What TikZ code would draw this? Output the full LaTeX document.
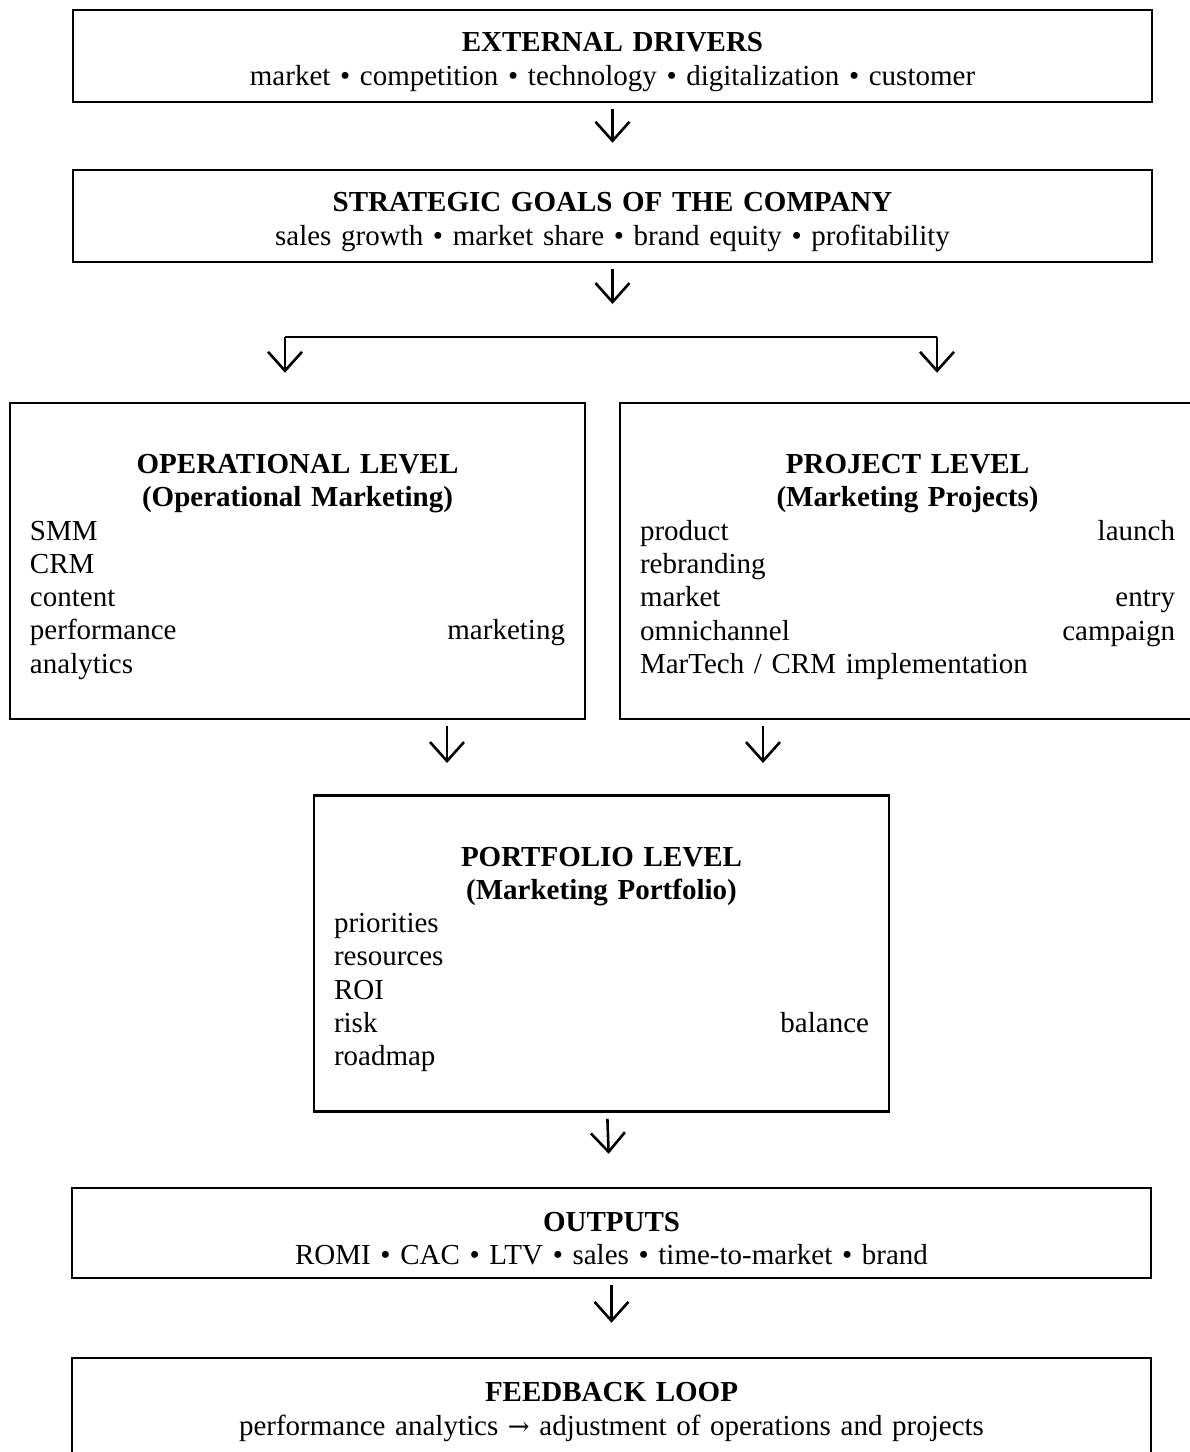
\documentclass[tikz,border=0pt]{standalone}
\usepackage{fontspec}
\setmainfont{Liberation Serif}
\newfontfamily\arrowfont{DejaVu Serif}
\usepackage{tikz}
\usetikzlibrary{arrows.meta,positioning}
\setlength{\parindent}{0pt}

\begin{document}
\begin{tikzpicture}[x=1pt,y=-1pt,
  font=\fontsize{29}{33.3}\selectfont,
  band/.style={draw,line width=2.5pt,inner sep=0pt,minimum width=1079pt,minimum height=#1,text width=1040pt,align=center,
    execute at begin node={\rule{0pt}{31pt}}},
  level/.style={draw,line width=2.5pt,inner xsep=20pt,inner ysep=0pt,minimum width=575pt,minimum height=316pt,text width=535pt,align=left,
    execute at begin node={\rule{0pt}{31pt}}},
  arr/.style={line width=2.6pt,-{Straight Barb[length=19pt,width=34pt,line width=2.6pt]}},
  wire/.style={line width=1.6pt}]
  \useasboundingbox (0,0) rectangle (1190,1452);
  % top bands
  \node[band=92pt] (drivers) at (612.5,56) {\textbf{EXTERNAL DRIVERS}\\market • competition • technology • digitalization • customer};
  \node[band=92pt] (goals) at (612.5,216) {\textbf{STRATEGIC GOALS OF THE COMPANY}\\sales growth • market share • brand equity • profitability};
  % ---- levels
  \node[level] (op) at (297.5,561) {{\centering\bfseries OPERATIONAL LEVEL\\(Operational Marketing)\par}
    SMM\\CRM\\content\\performance\hfill marketing\\analytics};
  \node[level] (proj) at (907.5,561) {{\centering\bfseries PROJECT LEVEL\\(Marketing Projects)\par}
    product\hfill launch\\rebranding\\market\hfill entry\\omnichannel\hfill campaign\\MarTech / CRM implementation};
  \node[level] (port) at (601.5,953.5) {{\centering\bfseries PORTFOLIO LEVEL\\(Marketing Portfolio)\par}
    priorities\\resources\\ROI\\risk\hfill balance\\roadmap};
  % bottom bands
  \node[band=90pt] (outputs) at (611.5,1233) {\textbf{OUTPUTS}\\ROMI • CAC • LTV • sales • time-to-market • brand};
  \node[band=96pt] (feedback) at (611.5,1406) {\textbf{FEEDBACK LOOP}\\performance analytics {\arrowfont\fontsize{26}{33.3}\selectfont →} adjustment of operations and projects};
  % ---- arrows
  \foreach \a/\b/\s in {drivers/goals/26,port/outputs/33,outputs/feedback/34}
    \draw[arr,shorten <=6pt,shorten >=\s pt] (\a) -- (\b);
  \coordinate (split) at (612.5,337);
  \coordinate (splitL) at (285,337);
  \coordinate (splitR) at (937,337);
  \draw[arr,shorten <=6pt,shorten >=33pt] (goals) -- (split);
  \draw[wire] (splitL) -- (splitR);
  \draw[arr,shorten >=29pt] (splitL) -- (splitL |- op.north);
  \draw[arr,shorten >=29pt] (splitR) -- (splitR |- proj.north);
  \coordinate (inL) at (447,796);
  \coordinate (inR) at (763,796);
  \draw[arr,shorten <=6pt,shorten >=33pt] (op.south -| inL) -- (inL);
  \draw[arr,shorten <=6pt,shorten >=33pt] (proj.south -| inR) -- (inR);
\end{tikzpicture}
\end{document}
